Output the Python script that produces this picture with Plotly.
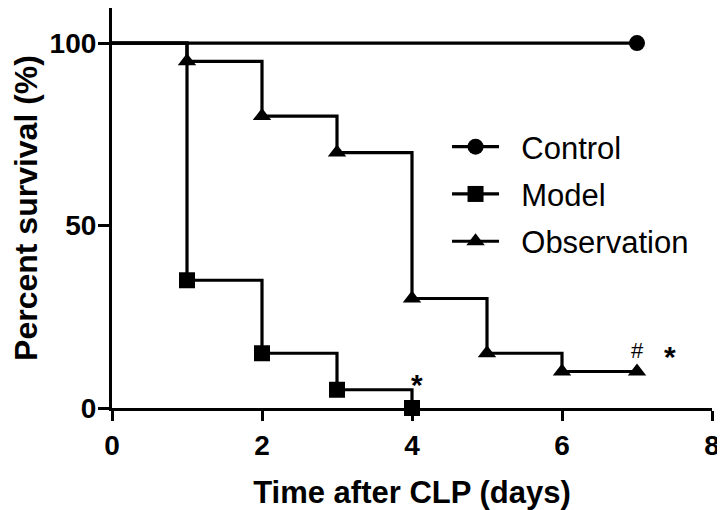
import plotly.graph_objects as go

# Data
series_names = ["Control", "Model", "Observation"]
control_days = [0, 7]
control_surv = [100, 100]
model_days = [0, 1, 2, 3, 4]
model_surv = [100, 35, 15, 5, 0]
obs_days = [0, 1, 2, 3, 4, 5, 6, 7]
obs_surv = [100, 95, 80, 70, 30, 15, 10, 10]
symbols = ["circle", "square", "triangle-up"]
marker_sizes = [16, 16, 16]

x_ticks = [0, 2, 4, 6, 8]
y_ticks = [0, 50, 100]

annot_text = ["*", "#", "*"]
annot_x = [4.07, 7.01, 7.44]
annot_y = [6.5, 15.7, 14.2]

FONT = "Arial, 'Liberation Sans', Helvetica, sans-serif"
BLACK = "#000000"

fig = go.Figure()
all_days = [control_days, model_days, obs_days]
all_surv = [control_surv, model_surv, obs_surv]

for name, xs, ys, sym, ms in zip(series_names, all_days, all_surv, symbols, marker_sizes):
    fig.add_trace(go.Scatter(x=xs, y=ys, mode="lines", line=dict(color=BLACK, width=3.2, shape="hv"),
                             showlegend=False, hoverinfo="skip", cliponaxis=False))
    fig.add_trace(go.Scatter(x=xs[1:], y=ys[1:], mode="markers",
                             marker=dict(symbol=sym, size=ms, color=BLACK),
                             showlegend=False, cliponaxis=False))
    fig.add_trace(go.Scatter(x=[None], y=[None], mode="lines+markers", name="  " + name,
                             legendgroup=name,
                             line=dict(color=BLACK, width=3.2),
                             marker=dict(symbol=sym, size=ms, color=BLACK)))

for t, ax, ay in zip(annot_text, annot_x, annot_y):
    fig.add_annotation(x=ax, y=ay, text=t, showarrow=False,
                       font=dict(family=FONT, size=30 if t == "*" else 22, color=BLACK,
                                 weight="bold" if t == "*" else "normal"))

fig.update_layout(
    width=717, height=502,
    margin=dict(l=104, r=13, t=0, b=102),
    plot_bgcolor="white", paper_bgcolor="white",
    font=dict(family=FONT, color=BLACK),
    legend=dict(x=0.5584, y=0.535, xanchor="left", yanchor="middle",
                font=dict(family=FONT, size=31, color=BLACK),
                itemwidth=47, bgcolor="rgba(0,0,0,0)", tracegroupgap=4),
    xaxis=dict(range=[0, 8], tickvals=x_ticks, ticktext=[str(v) for v in x_ticks],
               showline=True, linecolor=BLACK, linewidth=3.2,
               ticks="outside", ticklen=10, tickwidth=3.2, tickcolor=BLACK,
               showgrid=False, zeroline=False, automargin=False,
               tickfont=dict(family=FONT, size=28, color=BLACK, weight="bold"),
               title=dict(text="<b>Time after CLP (days)</b>", standoff=22,
                          font=dict(family=FONT, size=31, color=BLACK))),
    yaxis=dict(range=[0, 109.6], tickvals=y_ticks, ticktext=[str(v) for v in y_ticks],
               showline=True, linecolor=BLACK, linewidth=3.2,
               ticks="outside", ticklen=11, tickwidth=3.2, tickcolor=BLACK,
               ticklabelstandoff=-4,
               showgrid=False, zeroline=False, automargin=False,
               tickfont=dict(family=FONT, size=28, color=BLACK, weight="bold"),
               title=dict(text="<b>Percent survival (%)</b>", standoff=15,
                          font=dict(family=FONT, size=32, color=BLACK))),
)

fig.write_html("out.html")
